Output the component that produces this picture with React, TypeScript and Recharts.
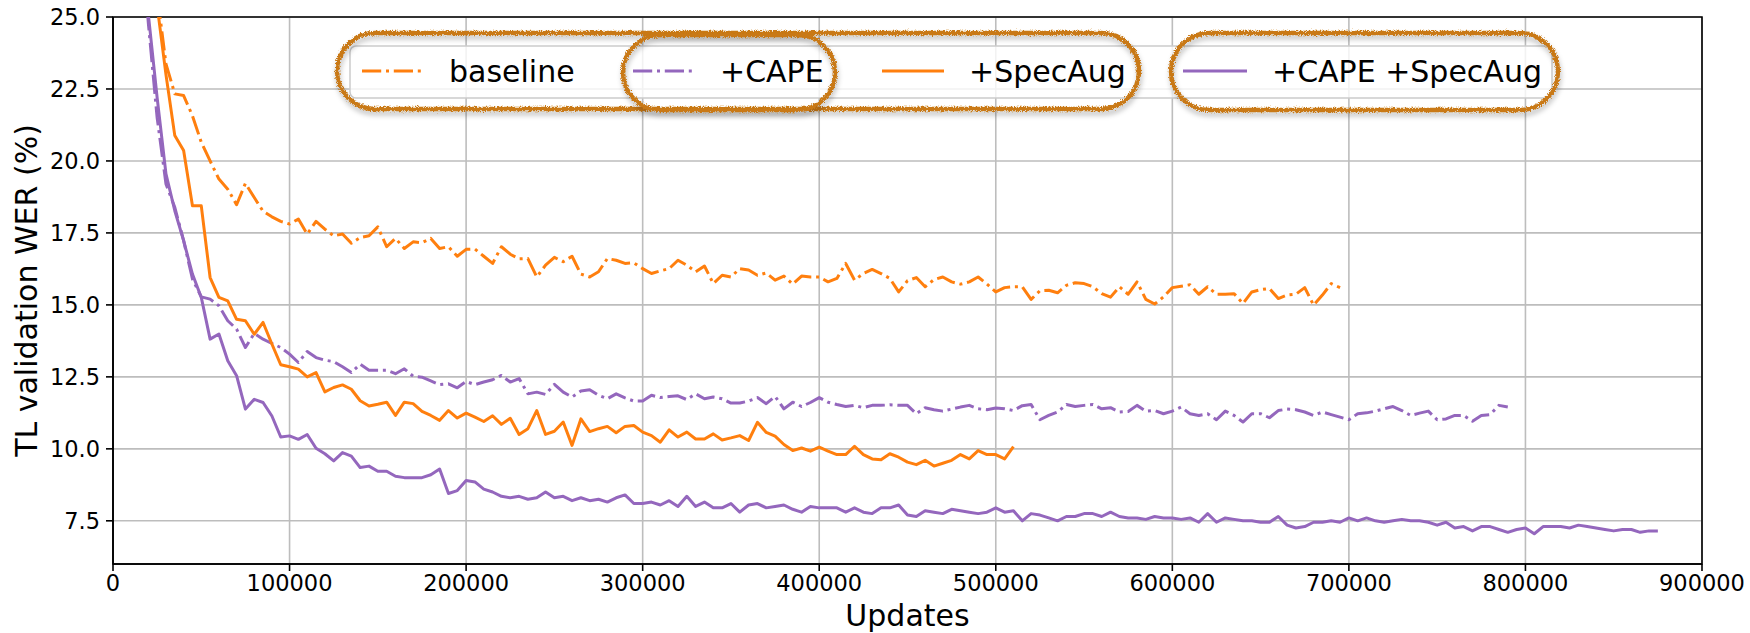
import React from "react";
import {
  CartesianGrid,
  Label,
  Legend,
  Line,
  LineChart,
  ReferenceArea,
  XAxis,
  YAxis,
} from "recharts";

const FONT = "DejaVu Sans";
const ORANGE = "#ff7f0e";
const PURPLE = "#9467bd";
const DASHDOT = "19.2 4.8 3 4.8";
const STEP = 5000; // one evaluation every 5000 updates

// TL validation WER (%), one value per 5000 updates from the start value
const baselineStart = 20000;
const baselineWer = [
  30.0, 25.8, 23.37, 22.33, 22.27, 21.57, 20.65, 20.0, 19.37, 19.02,
  18.48, 19.22, 18.73, 18.25, 18.06, 17.9, 17.81, 17.98, 17.46, 17.9,
  17.63, 17.4, 17.46, 17.14, 17.34, 17.4, 17.71, 17.02, 17.31, 16.96,
  17.19, 17.16, 17.31, 16.96, 17.02, 16.69, 16.93, 16.94, 16.69, 16.44,
  17.02, 16.76, 16.6, 16.61, 15.97, 16.38, 16.65, 16.5, 16.69, 16.07,
  15.97, 16.15, 16.61, 16.55, 16.44, 16.46, 16.26, 16.09, 16.18, 16.26,
  16.55, 16.38, 16.15, 16.35, 15.74, 16.03, 15.97, 16.26, 16.21, 16.03,
  16.11, 15.86, 16.0, 15.72, 16.0, 15.97, 15.97, 15.8, 15.92, 16.44,
  15.86, 16.09, 16.23, 16.09, 15.92, 15.45, 15.84, 15.95, 15.63, 15.88,
  15.97, 15.8, 15.72, 15.8, 15.97, 15.72, 15.45, 15.6, 15.63, 15.63,
  15.19, 15.49, 15.51, 15.42, 15.68, 15.77, 15.74, 15.63, 15.39, 15.27,
  15.63, 15.37, 15.8, 15.19, 15.03, 15.28, 15.6, 15.65, 15.7, 15.37,
  15.63, 15.37, 15.37, 15.39, 15.05, 15.45, 15.53, 15.57, 15.22, 15.34,
  15.37, 15.6, 14.99, 15.34, 15.74, 15.6,
];

const capeStart = 15000;
const capeWer = [
  28.5, 24.8, 21.5, 19.2, 18.39, 17.23, 15.9, 15.28, 15.2, 14.97,
  14.45, 14.16, 13.52, 14.01, 13.81, 13.66, 13.52, 13.29, 13.0, 13.38,
  13.17, 13.08, 13.03, 12.85, 12.65, 12.94, 12.73, 12.73, 12.73, 12.61,
  12.78, 12.52, 12.49, 12.36, 12.23, 12.26, 12.12, 12.34, 12.23, 12.32,
  12.4, 12.55, 12.32, 12.44, 11.91, 11.97, 11.89, 12.24, 11.97, 11.8,
  12.01, 12.05, 11.86, 11.74, 11.91, 11.77, 11.66, 11.66, 11.86, 11.78,
  11.82, 11.84, 11.71, 11.91, 11.74, 11.8, 11.74, 11.59, 11.59, 11.66,
  11.78, 11.57, 11.82, 11.39, 11.62, 11.47, 11.61, 11.78, 11.62, 11.54,
  11.47, 11.51, 11.43, 11.51, 11.51, 11.53, 11.51, 11.51, 11.22, 11.43,
  11.36, 11.31, 11.38, 11.45, 11.51, 11.39, 11.36, 11.42, 11.39, 11.33,
  11.5, 11.54, 11.01, 11.16, 11.28, 11.54, 11.47, 11.51, 11.54, 11.39,
  11.43, 11.28, 11.3, 11.51, 11.31, 11.33, 11.22, 11.31, 11.45, 11.22,
  11.16, 11.22, 11.01, 11.31, 11.16, 10.93, 11.22, 11.22, 11.08, 11.33,
  11.38, 11.36, 11.28, 11.16, 11.28, 11.19, 11.1, 11.01, 11.22, 11.25,
  11.31, 11.39, 11.47, 11.33, 11.16, 11.24, 11.31, 11.01, 11.04, 11.16,
  11.16, 10.96, 11.16, 11.19, 11.51, 11.45,
];

const specAugStart = 20000;
const specAugWer = [
  30.0, 25.4, 23.0, 20.88, 20.36, 18.44, 18.44, 15.95, 15.26, 15.14,
  14.5, 14.45, 13.98, 14.39, 13.64, 12.92, 12.85, 12.77, 12.5, 12.65,
  11.98, 12.13, 12.22, 12.07, 11.67, 11.49, 11.55, 11.62, 11.16, 11.62,
  11.57, 11.3, 11.16, 10.99, 11.33, 11.07, 11.24, 11.1, 10.95, 11.15,
  10.85, 11.06, 10.5, 10.7, 11.33, 10.5, 10.61, 10.93, 10.12, 11.04,
  10.6, 10.7, 10.78, 10.56, 10.78, 10.81, 10.58, 10.46, 10.23, 10.66,
  10.41, 10.58, 10.34, 10.34, 10.52, 10.31, 10.38, 10.46, 10.29, 10.92,
  10.57, 10.44, 10.15, 9.94, 10.03, 9.92, 10.06, 9.92, 9.8, 9.8,
  10.09, 9.8, 9.65, 9.62, 9.83, 9.71, 9.54, 9.45, 9.6, 9.4,
  9.5, 9.6, 9.8, 9.65, 9.94, 9.8, 9.8, 9.65, 10.08,
];

const capeSpecAugStart = 15000;
const capeSpecAugWer = [
  29.0, 25.1, 22.2, 19.55, 18.27, 17.23, 16.07, 15.26, 13.81, 13.99,
  13.06, 12.54, 11.38, 11.72, 11.61, 11.14, 10.41, 10.45, 10.33, 10.5,
  10.02, 9.83, 9.58, 9.87, 9.75, 9.35, 9.4, 9.22, 9.22, 9.05,
  9.0, 9.0, 9.0, 9.1, 9.3, 8.45, 8.55, 8.9, 8.85, 8.6,
  8.5, 8.35, 8.3, 8.35, 8.25, 8.3, 8.5, 8.3, 8.35, 8.2,
  8.3, 8.2, 8.25, 8.15, 8.3, 8.4, 8.1, 8.1, 8.15, 8.05,
  8.2, 8.0, 8.35, 8.0, 8.15, 7.95, 7.95, 8.1, 7.8, 8.05,
  8.1, 7.95, 8.0, 8.05, 7.9, 7.8, 8.0, 7.95, 7.95, 7.95,
  7.8, 7.95, 7.8, 7.75, 7.95, 7.95, 8.05, 7.7, 7.65, 7.85,
  7.8, 7.75, 7.9, 7.85, 7.8, 7.75, 7.8, 7.95, 7.8, 7.85,
  7.5, 7.75, 7.7, 7.6, 7.5, 7.65, 7.65, 7.75, 7.75, 7.65,
  7.8, 7.65, 7.6, 7.6, 7.55, 7.65, 7.6, 7.6, 7.55, 7.6,
  7.45, 7.75, 7.45, 7.6, 7.55, 7.5, 7.5, 7.45, 7.45, 7.65,
  7.35, 7.25, 7.3, 7.45, 7.45, 7.5, 7.45, 7.6, 7.5, 7.6,
  7.5, 7.45, 7.5, 7.55, 7.5, 7.5, 7.45, 7.35, 7.45, 7.25,
  7.3, 7.15, 7.3, 7.3, 7.2, 7.1, 7.2, 7.25, 7.05, 7.3,
  7.3, 7.3, 7.25, 7.35, 7.3, 7.25, 7.2, 7.15, 7.2, 7.2,
  7.1, 7.15, 7.15,
];

const xTicks = [0, 100000, 200000, 300000, 400000, 500000, 600000, 700000, 800000, 900000];
const yTicks = [7.5, 10, 12.5, 15, 17.5, 20, 22.5, 25];

const series = [
  { key: "baseline", name: "baseline", color: ORANGE, dash: DASHDOT, start: baselineStart, values: baselineWer },
  { key: "cape", name: "+CAPE", color: PURPLE, dash: DASHDOT, start: capeStart, values: capeWer },
  { key: "specAug", name: "+SpecAug", color: ORANGE, dash: undefined, start: specAugStart, values: specAugWer },
  { key: "capeSpecAug", name: "+CAPE +SpecAug", color: PURPLE, dash: undefined, start: capeSpecAugStart, values: capeSpecAugWer },
];

// one row per evaluation point, series that were not run there stay empty
const rowsByUpdate = new Map<number, Record<string, number>>();
series.forEach((s) => {
  s.values.forEach((v, i) => {
    const updates = s.start + i * STEP;
    const row = rowsByUpdate.get(updates) ?? { updates };
    row[s.key] = v;
    rowsByUpdate.set(updates, row);
  });
});
const data = [...rowsByUpdate.values()].sort((a, b) => a.updates - b.updates);

// legend geometry (page pixels)
const legendSlots = [
  { line: [362, 422], text: 449 },
  { line: [633, 693], text: 720 },
  { line: [882, 944], text: 969 },
  { line: [1183, 1247], text: 1272 },
];
const highlightBoxes = [
  { x: 337, y: 33, w: 802, h: 76 },
  { x: 623, y: 35, w: 212, h: 75 },
  { x: 1171, y: 33, w: 387, h: 77 },
];

const renderLegend = () => (
  <svg width={1750} height={130} style={{ display: "block" }}>
    <defs>
      <filter id="rough" x="-5%" y="-20%" width="110%" height="140%">
        <feTurbulence type="fractalNoise" baseFrequency="1.4" numOctaves={2} seed={3} result="noise" />
        <feDisplacementMap in="SourceGraphic" in2="noise" scale={5} xChannelSelector="R" yChannelSelector="G" />
      </filter>
      <filter id="blurShadow" x="-10%" y="-30%" width="120%" height="160%">
        <feGaussianBlur stdDeviation={2.5} />
      </filter>
    </defs>
    <rect x={350} y={46} width={1202} height={52} rx={6} fill="#fff" fillOpacity={0.8} stroke="#cccccc" strokeWidth={1.5} />
    {series.map((s, i) => {
      const slot = legendSlots[i];
      return (
        <g key={s.key}>
          <line
            x1={slot.line[0]}
            x2={slot.line[1]}
            y1={71}
            y2={71}
            stroke={s.color}
            strokeWidth={3}
            strokeDasharray={s.dash}
          />
          <text x={slot.text} y={71} dominantBaseline="central" fontFamily={FONT} fontSize={30} fill="#000">
            {s.name}
          </text>
        </g>
      );
    })}
    {highlightBoxes.map((b, i) => (
      <g key={i}>
        <rect
          x={b.x + 1}
          y={b.y + 4}
          width={b.w}
          height={b.h}
          rx={b.h / 2}
          fill="none"
          stroke="#000"
          strokeOpacity={0.22}
          strokeWidth={5}
          filter="url(#blurShadow)"
        />
        <rect
          x={b.x}
          y={b.y}
          width={b.w}
          height={b.h}
          rx={b.h / 2}
          fill="none"
          stroke="#c97916"
          strokeWidth={4.5}
          filter="url(#rough)"
        />
      </g>
    ))}
  </svg>
);

const YTitle = ({ viewBox }: any) => {
  const cy = viewBox.y + viewBox.height / 2;
  return (
    <text
      transform={`translate(37, ${cy}) rotate(-90)`}
      textAnchor="middle"
      fontFamily={FONT}
      fontSize={30}
      fill="#000"
    >
      TL validation WER (%)
    </text>
  );
};

const XTitle = ({ viewBox }: any) => (
  <text x={viewBox.x + viewBox.width / 2} y={626} textAnchor="middle" fontFamily={FONT} fontSize={30} fill="#000">
    Updates
  </text>
);

const tickStyle = { fontSize: 22.5, fill: "#000", fontFamily: FONT };

export default function App() {
  return (
    <div style={{ position: "absolute", left: 0, top: 0, width: 1750, height: 633, background: "#fff" }}>
      <LineChart width={1750} height={633} data={data} margin={{ top: 17, right: 48, bottom: 0, left: 0 }}>
        <CartesianGrid stroke="#bdbdbd" strokeWidth={1.6} />
        <XAxis
          dataKey="updates"
          type="number"
          domain={[0, 900000]}
          ticks={xTicks}
          interval={0}
          height={69}
          tickSize={7}
          tickMargin={4}
          tick={tickStyle}
          tickLine={{ stroke: "#000", strokeWidth: 1.6 }}
          axisLine={{ stroke: "#000", strokeWidth: 1.6 }}
          tickFormatter={(v: number) => String(v)}
        >
          <Label content={XTitle} />
        </XAxis>
        <YAxis
          type="number"
          domain={[6, 25]}
          allowDataOverflow
          ticks={yTicks}
          interval={0}
          width={113}
          tickSize={7}
          tickMargin={6}
          tick={tickStyle}
          tickLine={{ stroke: "#000", strokeWidth: 1.6 }}
          axisLine={{ stroke: "#000", strokeWidth: 1.6 }}
          tickFormatter={(v: number) => v.toFixed(1)}
        >
          <Label content={YTitle} />
        </YAxis>
        {series.map((s) => (
          <Line
            key={s.key}
            dataKey={s.key}
            name={s.name}
            type="linear"
            stroke={s.color}
            strokeWidth={3}
            strokeDasharray={s.dash}
            strokeLinejoin="round"
            dot={false}
            activeDot={false}
            isAnimationActive={false}
          />
        ))}
        <ReferenceArea x1={0} x2={900000} y1={6} y2={25} fill="none" stroke="#000" strokeWidth={1.6} />
        <Legend
          verticalAlign="middle"
          layout="horizontal"
          content={renderLegend}
          wrapperStyle={{ position: "absolute", left: 0, top: 0, width: 1750, height: 130 }}
        />
      </LineChart>
    </div>
  );
}
